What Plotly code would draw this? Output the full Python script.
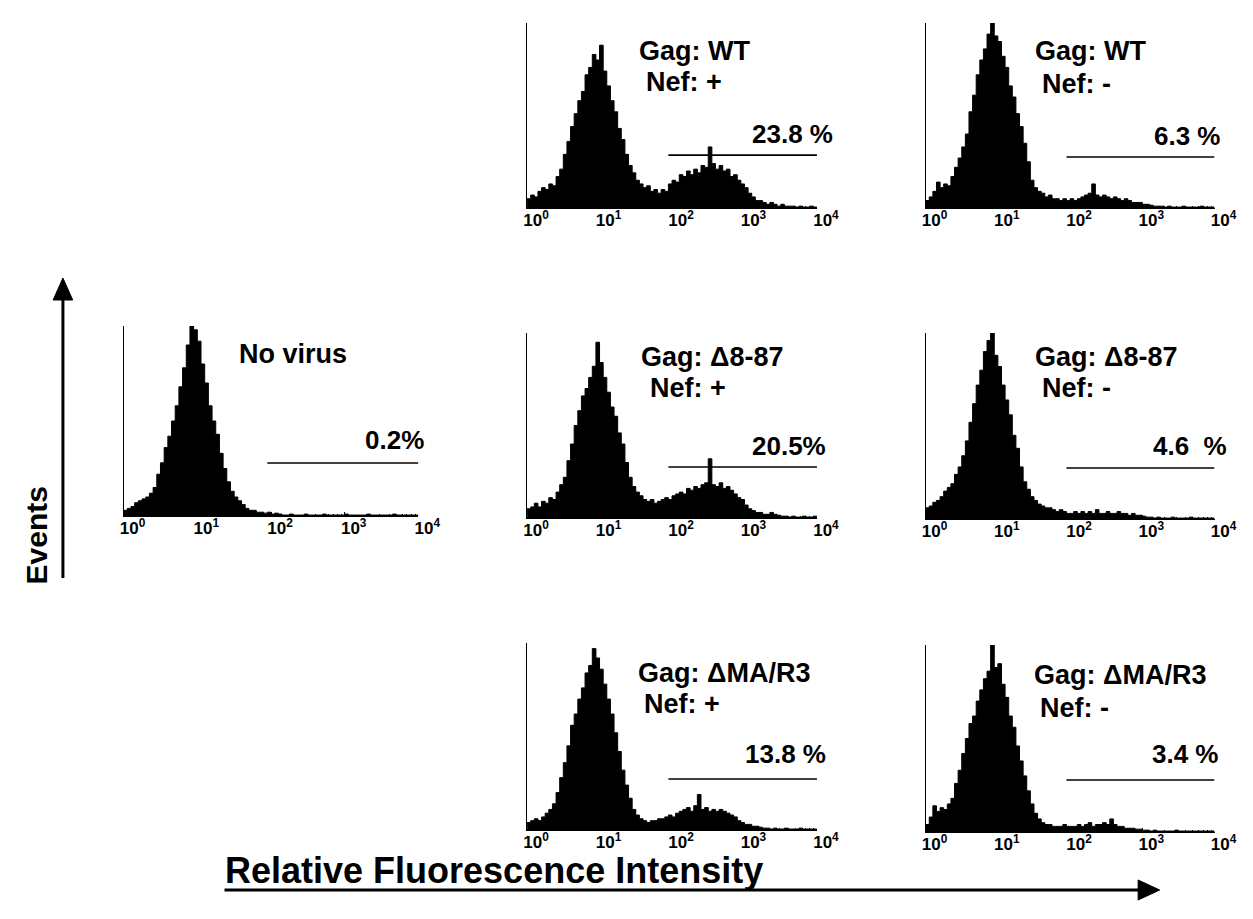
import numpy as np
import plotly.graph_objects as go

W, H = 1253, 919

# ---------------- data ----------------
gag_labels = ["Gag: WT", "Gag: WT", "No virus", "Gag: \u03948-87", "Gag: \u03948-87",
              "Gag: \u0394MA/R3", "Gag: \u0394MA/R3"]
nef_labels = ["Nef: +", "Nef: -", "", "Nef: +", "Nef: -", "Nef: +", "Nef: -"]
pct_labels = ["23.8 %", "6.3 %", "0.2%", "20.5%", "4.6\u00a0 %", "13.8 %", "3.4 %"]

tick_labels = ["10<sup>0</sup>", "10<sup>1</sup>", "10<sup>2</sup>", "10<sup>3</sup>", "10<sup>4</sup>"]
decades = [0, 1, 2, 3, 4]

# gate: starts at 10^1.95 and runs to 10^4; drawn at this height (% of y scale)
gate_start = [1.95, 1.95, 1.95, 1.95, 1.95, 1.95, 1.95]
gate_level = [28.6, 27.6, 27.9, 27.6, 27.4, 27.3, 27.8]

# event counts (% of full scale) in 80 log-spaced channels from 10^0 to 10^4
hist_wt_pos = [5, 7, 6, 9, 11, 10, 13, 12, 17, 21, 29, 36, 44, 51, 58, 63, 72, 76, 83, 80,
               88, 74, 66, 58, 52, 43, 37, 29, 23, 19, 15, 13, 11, 12, 9, 10, 8, 10, 9, 13,
               15, 14, 18, 17, 20, 18, 21, 19, 23, 22, 33, 24, 21, 23, 20, 21, 17, 18, 15, 13,
               11, 8, 6, 4, 4, 3, 2, 3, 2, 1, 2, 1, 1, 1, 0.5, 1, 0.5, 0.5, 1, 0.5]
hist_wt_neg = [4, 6, 9, 14, 11, 13, 12, 17, 22, 27, 33, 40, 52, 61, 72, 80, 86, 94, 100, 93,
               90, 82, 76, 66, 60, 51, 44, 35, 25, 15, 11, 9, 8, 6, 7, 5, 5, 4, 5, 4,
               5, 4, 5, 6, 7, 8, 13, 7, 6, 7, 6, 5, 6, 5, 4, 5, 4, 3, 3, 3,
               2, 2, 1.5, 1, 1, 1, 0.5, 1, 0.5, 0.5, 0.5, 1, 0.5, 0.5, 0.5, 0.5, 1, 0.5, 0.5, 0.5]
hist_no_virus = [3, 4, 5, 7, 8, 9, 10, 12, 15, 22, 28, 36, 42, 50, 58, 68, 78, 90, 100, 98,
                 92, 80, 70, 58, 50, 43, 33, 25, 18, 13, 10, 8, 6, 4, 3, 3, 2, 2, 1.5, 2,
                 1, 1.5, 1, 0.5, 0.5, 1, 0.5, 0.5, 0.5, 1, 0.5, 0.5, 0.5, 0.5, 1, 0.5, 0.5, 0.5, 0.5, 0.5,
                 1, 0.5, 0.5, 0.5, 0.5, 0.5, 1, 0.5, 0.5, 0.5, 0.5, 0.5, 0.5, 1, 0.5, 0.5, 0.5, 0.5, 0.5, 0.5]
hist_d887_pos = [5, 6, 8, 6, 9, 8, 11, 10, 14, 18, 22, 31, 40, 50, 58, 66, 70, 76, 82, 95,
                 84, 76, 68, 60, 55, 46, 40, 30, 22, 17, 14, 12, 10, 9, 10, 8, 9, 10, 11, 10,
                 12, 13, 14, 13, 16, 15, 17, 16, 18, 19, 32, 18, 17, 19, 16, 17, 15, 13, 11, 10,
                 7, 5, 4, 3, 3, 2, 2, 3, 2, 1.5, 1, 1, 0.5, 1, 0.5, 0.5, 1, 0.5, 0.5, 1]
hist_d887_neg = [6, 7, 9, 10, 12, 15, 17, 19, 24, 28, 34, 42, 52, 62, 72, 80, 90, 96, 100, 88,
                 82, 72, 64, 56, 45, 38, 28, 20, 16, 12, 10, 8, 7, 6, 6, 5, 4, 5, 4, 3,
                 3, 4, 3, 4, 3, 4, 3, 5, 3, 3, 4, 3, 3, 4, 3, 3, 2, 3, 2, 2,
                 1.5, 1, 1, 0.5, 1, 0.5, 0.5, 0.5, 1, 0.5, 0.5, 0.5, 0.5, 1, 0.5, 0.5, 0.5, 0.5, 0.5, 0.5]
hist_dma_pos = [4, 5, 6, 5, 7, 9, 11, 14, 20, 28, 36, 45, 56, 62, 70, 76, 84, 88, 97, 92,
                86, 78, 70, 62, 52, 42, 32, 24, 17, 11, 8, 6, 5, 4, 5, 5, 6, 6, 7, 8,
                7, 9, 10, 11, 12, 10, 13, 19, 11, 12, 10, 11, 10, 11, 10, 9, 8, 7, 5, 4,
                3, 3, 2, 2, 1.5, 1, 1, 0.5, 1, 0.5, 0.5, 1, 0.5, 0.5, 0.5, 1, 0.5, 0.5, 0.5, 0.5]
hist_dma_neg = [4, 8, 14, 11, 13, 12, 15, 18, 26, 33, 42, 50, 58, 62, 70, 76, 82, 86, 100, 88,
                90, 79, 72, 62, 56, 46, 38, 30, 22, 15, 10, 7, 5, 4, 4, 3, 3, 3, 4, 3,
                3, 3, 4, 3, 4, 5, 3, 4, 4, 5, 4, 7, 4, 3, 3, 2, 2, 2, 1.5, 1.5,
                1, 1, 0.5, 1, 0.5, 0.5, 0.5, 0.5, 0.5, 1, 0.5, 0.5, 0.5, 0.5, 0.5, 0.5, 0.5, 0.5, 0.5, 0.5]

hists = [hist_wt_pos, hist_wt_neg, hist_no_virus, hist_d887_pos, hist_d887_neg,
         hist_dma_pos, hist_dma_neg]

# ---------------- layout (pixels) ----------------
# x0, x1, top, base of each panel's axes
panels = [
    (526, 822, 15, 200),
    (933, 1228, 15, 200),
    (114, 415, 318, 508),
    (526, 822, 325, 510),
    (933, 1228, 325, 511),
    (526, 822, 635, 822),
    (933, 1228, 637, 824),
]
# (gag_x, gag_y, nef_x, nef_y, pct_right_x, pct_y)
text_pos = [
    (638, 43, 645, 74, 840, 126),
    (1043, 43, 1050, 76, 1237, 128),
    (230, 346, 0, 0, 423, 432),
    (640, 349, 649, 380, 833, 438),
    (1043, 349, 1050, 380, 1243, 438),
    (637, 665, 643, 696, 833, 746),
    (1042, 667, 1048, 700, 1235, 746),
]

FONT = "Liberation Sans, Arial, Helvetica, sans-serif"


def px(x):
    return x / W


def py(y):
    return 1 - y / H


fig = go.Figure()
layout = dict(width=W, height=H, margin=dict(l=0, r=0, t=0, b=0), autosize=False,
              paper_bgcolor="white", plot_bgcolor="white", showlegend=False,
              font=dict(family=FONT, color="black"))

minor_vals = [d + np.log10(k) for d in range(4) for k in range(2, 10)]
annotations = []
shapes = []

for i, (x0, x1, top, base) in enumerate(panels):
    k = "" if i == 0 else str(i + 1)
    vals = hists[i]
    n = len(vals)
    edges = np.linspace(0, 4, n + 1)
    xs = list(edges[:-1]) + [4.0]
    ys = list(vals) + [vals[-1]]
    fig.add_trace(go.Scatter(x=xs, y=ys, mode="lines",
                             line=dict(shape="hv", color="black", width=1),
                             fill="tozeroy", fillcolor="black",
                             xaxis="x" + k, yaxis="y" + k, hoverinfo="skip"))
    layout["xaxis" + k] = dict(
        domain=[px(x0), px(x1)], range=[0, 4], anchor="y" + k,
        showline=True, linecolor="black", linewidth=1, mirror=False,
        ticks="inside", ticklen=4, tickwidth=1, tickcolor="black",
        tickvals=decades, ticktext=["<b>" + t + "</b>" for t in tick_labels],
        tickfont=dict(size=17, family=FONT, color="black"),
        ticklabelshift=9, ticklabelstandoff=-3,
        showgrid=False, zeroline=False, fixedrange=True,
        minor=dict(tickvals=minor_vals, ticks="inside", ticklen=2, tickwidth=1,
                   tickcolor="black", showgrid=False),
    )
    layout["yaxis" + k] = dict(
        domain=[py(base), py(top)], range=[0, 100], anchor="x" + k,
        showline=True, linecolor="black", linewidth=1,
        ticks="", showticklabels=False, showgrid=False, zeroline=False, fixedrange=True,
    )
    # gate
    shapes.append(dict(type="line", xref="x" + k, yref="y" + k,
                       x0=gate_start[i], x1=4, y0=gate_level[i], y1=gate_level[i],
                       line=dict(color="black", width=1.6)))
    gx, gy, nx, ny, rx, ry = text_pos[i]
    annotations.append(dict(xref="paper", yref="paper", x=px(gx), y=py(gy),
                            xanchor="left", yanchor="middle", showarrow=False,
                            text="<b>" + gag_labels[i] + "</b>",
                            font=dict(size=27, family=FONT, color="black")))
    if nef_labels[i]:
        annotations.append(dict(xref="paper", yref="paper", x=px(nx), y=py(ny),
                                xanchor="left", yanchor="middle", showarrow=False,
                                text="<b>" + nef_labels[i] + "</b>",
                                font=dict(size=27, family=FONT, color="black")))
    annotations.append(dict(xref="paper", yref="paper", x=px(rx), y=py(ry),
                            xanchor="right", yanchor="middle", showarrow=False,
                            text="<b>" + pct_labels[i] + "</b>",
                            font=dict(size=26, family=FONT, color="black")))

# axis titles with arrows
annotations.append(dict(xref="paper", yref="paper", x=px(215), y=py(862),
                        xanchor="left", yanchor="middle", showarrow=False,
                        text="<b>Relative Fluorescence Intensity</b>",
                        font=dict(size=36, family=FONT, color="black")))
annotations.append(dict(xref="paper", yref="paper", x=px(25), y=py(527),
                        xanchor="center", yanchor="middle", showarrow=False,
                        textangle=-90, text="<b>Events</b>",
                        font=dict(size=30, family=FONT, color="black")))

# horizontal arrow
shapes.append(dict(type="line", xref="paper", yref="paper",
                   x0=px(217), x1=px(1152), y0=py(882), y1=py(882),
                   line=dict(color="black", width=3)))
shapes.append(dict(type="path", xref="paper", yref="paper",
                   path=f"M {px(1150)},{py(872)} L {px(1172)},{py(882)} L {px(1150)},{py(892)} Z",
                   fillcolor="black", line=dict(color="black", width=1)))
# vertical arrow
shapes.append(dict(type="line", xref="paper", yref="paper",
                   x0=px(52), x1=px(52), y0=py(570), y1=py(288),
                   line=dict(color="black", width=3)))
shapes.append(dict(type="path", xref="paper", yref="paper",
                   path=f"M {px(42)},{py(292)} L {px(52)},{py(270)} L {px(62)},{py(292)} Z",
                   fillcolor="black", line=dict(color="black", width=1)))

layout["annotations"] = annotations
layout["shapes"] = shapes
fig.update_layout(**layout)

fig.write_html("out.html")
